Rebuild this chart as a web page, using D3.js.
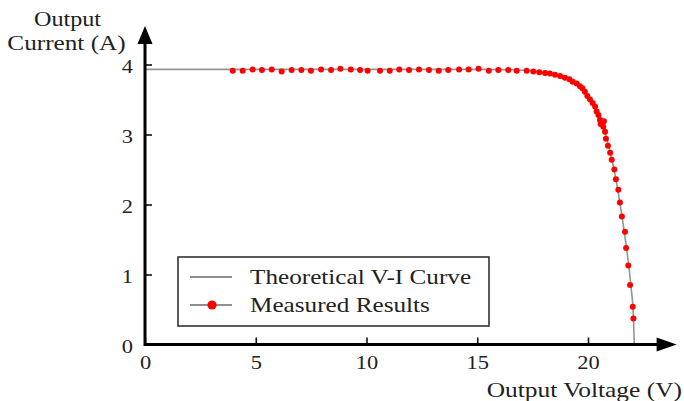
<!DOCTYPE html>
<html>
<head>
<meta charset="utf-8">
<script src="https://cdn.jsdelivr.net/npm/d3@7"></script>
<style>
  html, body { margin: 0; padding: 0; background: #fff; }
  svg { display: block; }
  text { font-family: "Liberation Serif", "Times New Roman", serif; fill: #222; }
</style>
</head>
<body>
<svg id="chart" width="684" height="401"></svg>
<script>
// Tick values
const xTicks = [0, 5, 10, 15, 20];
const yTicks = [0, 1, 2, 3, 4];

// Theoretical V-I curve (V, A)
const theoryV = [0, 15, 16.5, 17.5, 18.25, 18.75, 19.25, 19.75, 20.1, 20.4, 20.7, 21.0, 21.25, 21.5, 21.75, 21.95, 22.05, 22.09];
const theoryI = [3.93, 3.93, 3.925, 3.91, 3.88, 3.84, 3.77, 3.65, 3.5, 3.33, 3.1, 2.75, 2.38, 1.9, 1.35, 0.8, 0.4, 0.0];

// Measured results (V, A)
const measuredV = [3.96, 4.41, 4.86, 5.28, 5.72, 6.17, 6.62, 7.06, 7.49, 7.95, 8.40, 8.82, 9.29, 9.71,
  10.05, 10.61, 11.05, 11.48, 11.92, 12.37, 12.82, 13.26, 13.69, 14.18, 14.61, 15.06, 15.52, 15.95,
  16.4, 16.78, 17.23, 17.53, 17.8, 18.06, 18.28, 18.51, 18.74, 18.96, 19.16, 19.31, 19.49, 19.64,
  19.75, 19.86, 19.97, 20.09, 20.21, 20.32, 20.39, 20.47, 20.54, 20.57, 20.72, 20.69, 20.77, 20.81,
  20.9, 21.0, 21.07, 21.19, 21.26, 21.37, 21.44, 21.53, 21.67, 21.72, 21.82, 21.9, 22.02, 22.05];
const measuredI = [3.91, 3.91, 3.93, 3.92, 3.93, 3.90, 3.92, 3.92, 3.91, 3.93, 3.92, 3.94, 3.93, 3.92,
  3.91, 3.91, 3.91, 3.93, 3.92, 3.93, 3.92, 3.91, 3.92, 3.93, 3.93, 3.94, 3.91, 3.92,
  3.92, 3.91, 3.91, 3.90, 3.89, 3.88, 3.87, 3.855, 3.835, 3.81, 3.79, 3.755, 3.73, 3.69,
  3.66, 3.61, 3.55, 3.50, 3.45, 3.40, 3.33, 3.28, 3.21, 3.15, 3.19, 3.11, 3.04, 2.94,
  2.84, 2.74, 2.64, 2.50, 2.36, 2.21, 2.03, 1.83, 1.61, 1.38, 1.13, 0.85, 0.54, 0.37];

const legendLabels = ["Theoretical V-I Curve", "Measured Results"];
const yTitle = ["Output", "Current (A)"];
const xTitle = "Output Voltage (V)";

const theory = theoryV.map((v, i) => ({ v, i: theoryI[i] }));
const measured = measuredV.map((v, i) => ({ v, i: measuredI[i] }));

const svg = d3.select("#chart");
const x = d3.scaleLinear().domain([0, 24]).range([145, 676.6]);
const y = d3.scaleLinear().domain([0, 4.55]).range([344.5, 26]);

// The serif lettering is set slightly wide
function widen(sel, k = 1.2) {
  sel.each(function () {
    const w = this.getComputedTextLength();
    d3.select(this).attr("textLength", w * k).attr("lengthAdjust", "spacingAndGlyphs");
  });
}

// Theoretical curve
svg.append("path")
  .datum(theory)
  .attr("fill", "none")
  .attr("stroke", "#939393")
  .attr("stroke-width", 1.6)
  .attr("d", d3.line().x(d => x(d.v)).y(d => y(d.i)).curve(d3.curveMonotoneX));

// Measured points
svg.append("g")
  .selectAll("circle")
  .data(measured)
  .join("circle")
  .attr("cx", d => x(d.v))
  .attr("cy", d => y(d.i))
  .attr("r", 3)
  .attr("fill", "#ff0000");

// Axes
const xAxis = d3.axisBottom(x).tickValues(xTicks).tickFormat(d3.format("d"))
  .tickSizeInner(-7).tickSizeOuter(0).tickPadding(11);
const yAxis = d3.axisLeft(y).tickValues(yTicks).tickFormat(d3.format("d"))
  .tickSizeInner(-7).tickSizeOuter(0).tickPadding(12);

const gx = svg.append("g").attr("transform", `translate(0,${y(0)})`).call(xAxis);
const gy = svg.append("g").attr("transform", `translate(${x(0)},0)`).call(yAxis);
[gx, gy].forEach(g => {
  g.select(".domain").remove();
  g.selectAll(".tick line").attr("stroke", "#111").attr("stroke-width", 1.6);
  g.selectAll(".tick text").style("font-family", "'Liberation Serif', serif").style("font-size", "19.5px").attr("fill", "#222");
});
gy.selectAll(".tick text").attr("dy", "0.4em");
gx.selectAll(".tick text").call(widen, 1.15);
gy.selectAll(".tick text").call(widen, 1.15);

// Axis lines with arrow heads
const x0 = x(0), y0 = y(0), xEnd = x.range()[1], yEnd = y.range()[1];
svg.append("line").attr("x1", x0).attr("y1", y0).attr("x2", xEnd - 14).attr("y2", y0)
  .attr("stroke", "#000").attr("stroke-width", 3);
svg.append("line").attr("x1", x0).attr("y1", y0 + 1.5).attr("x2", x0).attr("y2", yEnd + 14)
  .attr("stroke", "#000").attr("stroke-width", 3);
svg.append("path")
  .attr("d", `M${xEnd},${y0} L${xEnd - 20},${y0 - 7} L${xEnd - 20},${y0 + 7} Z`)
  .attr("fill", "#000");
svg.append("path")
  .attr("d", `M${x0},${yEnd} L${x0 - 7.5},${yEnd + 18} L${x0 + 7.5},${yEnd + 18} Z`)
  .attr("fill", "#000");

// Axis titles
svg.append("text")
  .attr("x", 67.5).attr("y", 26)
  .attr("text-anchor", "middle")
  .style("font-size", "21px")
  .text(yTitle[0]).call(widen, 1.15);
svg.append("text")
  .attr("x", 66.5).attr("y", 49.5)
  .attr("text-anchor", "middle")
  .style("font-size", "21px")
  .text(yTitle[1]).call(widen, 1.2);
svg.append("text")
  .attr("x", 682).attr("y", 396.5)
  .attr("text-anchor", "end")
  .style("font-size", "21px")
  .text(xTitle).call(widen, 1.21);

// Legend
const lg = svg.append("g");
lg.append("rect")
  .attr("x", 178).attr("y", 257).attr("width", 311).attr("height", 69)
  .attr("fill", "#fff").attr("stroke", "#333").attr("stroke-width", 1.6);
const rows = [277, 305];
rows.forEach((ry, k) => {
  lg.append("line").attr("x1", 190).attr("x2", 232).attr("y1", ry).attr("y2", ry)
    .attr("stroke", "#8f8f8f").attr("stroke-width", 2);
  if (k === 1) {
    lg.append("circle").attr("cx", 212).attr("cy", ry).attr("r", 4.6).attr("fill", "#ff0000");
  }
  lg.append("text")
    .attr("x", 250).attr("y", ry + 7)
    .style("font-size", "21px")
    .text(legendLabels[k]).call(widen, 1.2);
});
</script>
</body>
</html>
